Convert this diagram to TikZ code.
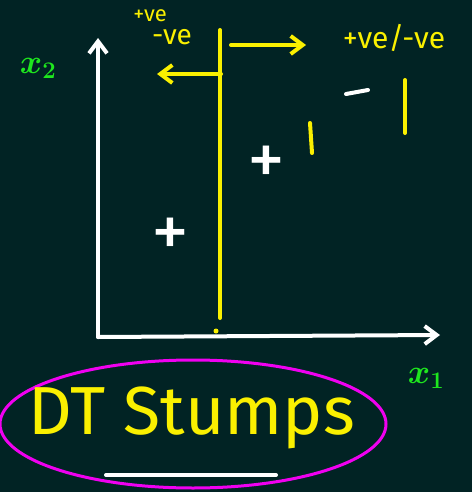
\RequirePackage{fix-cm}
\documentclass[tikz,border=0pt]{standalone}
\usepackage{fontspec}
\setsansfont{Fira Sans}
\definecolor{board}{RGB}{1,35,36}
\definecolor{chalkyellow}{RGB}{250,240,0}
\definecolor{chalkgreen}{RGB}{30,230,30}
\definecolor{chalkpink}{RGB}{240,0,240}
\usetikzlibrary{arrows.meta,positioning,shapes.geometric}

\begin{document}
\begin{tikzpicture}[x=1pt,y=-1pt,line cap=round,
  chalk/.style={draw=white,line width=4pt},
  ychalk/.style={draw=chalkyellow,line width=4pt},
  tip/.style={-{Straight Barb[length=12pt,width=18pt]}},
  lbl/.style={font=\sffamily\fontsize{30}{32}\selectfont,text=chalkyellow,inner sep=0pt},
  axlbl/.style={font=\fontsize{34}{36}\selectfont\boldmath,text=chalkgreen,inner sep=0pt},
  sign/.style={text=white,font=\sffamily\fontsize{76}{76}\selectfont,inner sep=0pt}]
  \fill[board] (0,0) rectangle (472,492);
  \useasboundingbox (0,0) rectangle (472,492);
  % axes
  \coordinate (o) at (98,337);
  \coordinate (ytop) at (98,38);
  \coordinate (xend) at (440,335);
  \draw[chalk,tip] (o) -- (ytop);
  \draw[chalk,tip] (o) -- (xend);
  \node[axlbl] (x2) at (38,68) {$x_2$};
  \node[axlbl] (x1) at (426,378) {$x_1$};
  % split line
  \coordinate (stop) at (220,30);
  \coordinate (sbot) at (220,318);
  \draw[ychalk] (stop) -- (sbot);
  \fill[chalkyellow] (216,331) circle (2.5pt);
  % branch labels
  \coordinate (ra) at (231,45);
  \coordinate (rb) at (306,45);
  \coordinate (la) at (221,74);
  \coordinate (lb) at (157,74);
  \draw[ychalk,tip] (ra) -- (rb);
  \draw[ychalk,tip] (la) -- (lb);
  \node[lbl] (right) at (394,38) {+ve/-ve};
  \node[lbl,font=\sffamily\fontsize{22}{24}\selectfont] (lup) at (150,16) {+ve};
  \node[lbl,font=\sffamily\fontsize{28}{30}\selectfont] (ldown) at (172,37) {-ve};
  % marks
  \node[sign] (p1) at (170,238) {+};
  \node[sign] (p2) at (266,166) {+};
  \draw[chalk] (346,94) -- (368,90);
  \draw[ychalk] (310,123) -- (312,153);
  \draw[ychalk] (405,80) -- (405,133);
  % title
  \node[draw=chalkpink,line width=3pt,ellipse,minimum width=386pt,minimum height=128pt] (ring) at (193,424) {};
  \node[lbl,font=\sffamily\fontsize{68}{72}\selectfont] (title) at (192,418) {DT Stumps};
  \coordinate (ua) at (106,475);
  \coordinate (ub) at (276,475);
  \draw[chalk] (ua) -- (ub);
\end{tikzpicture}
\end{document}
